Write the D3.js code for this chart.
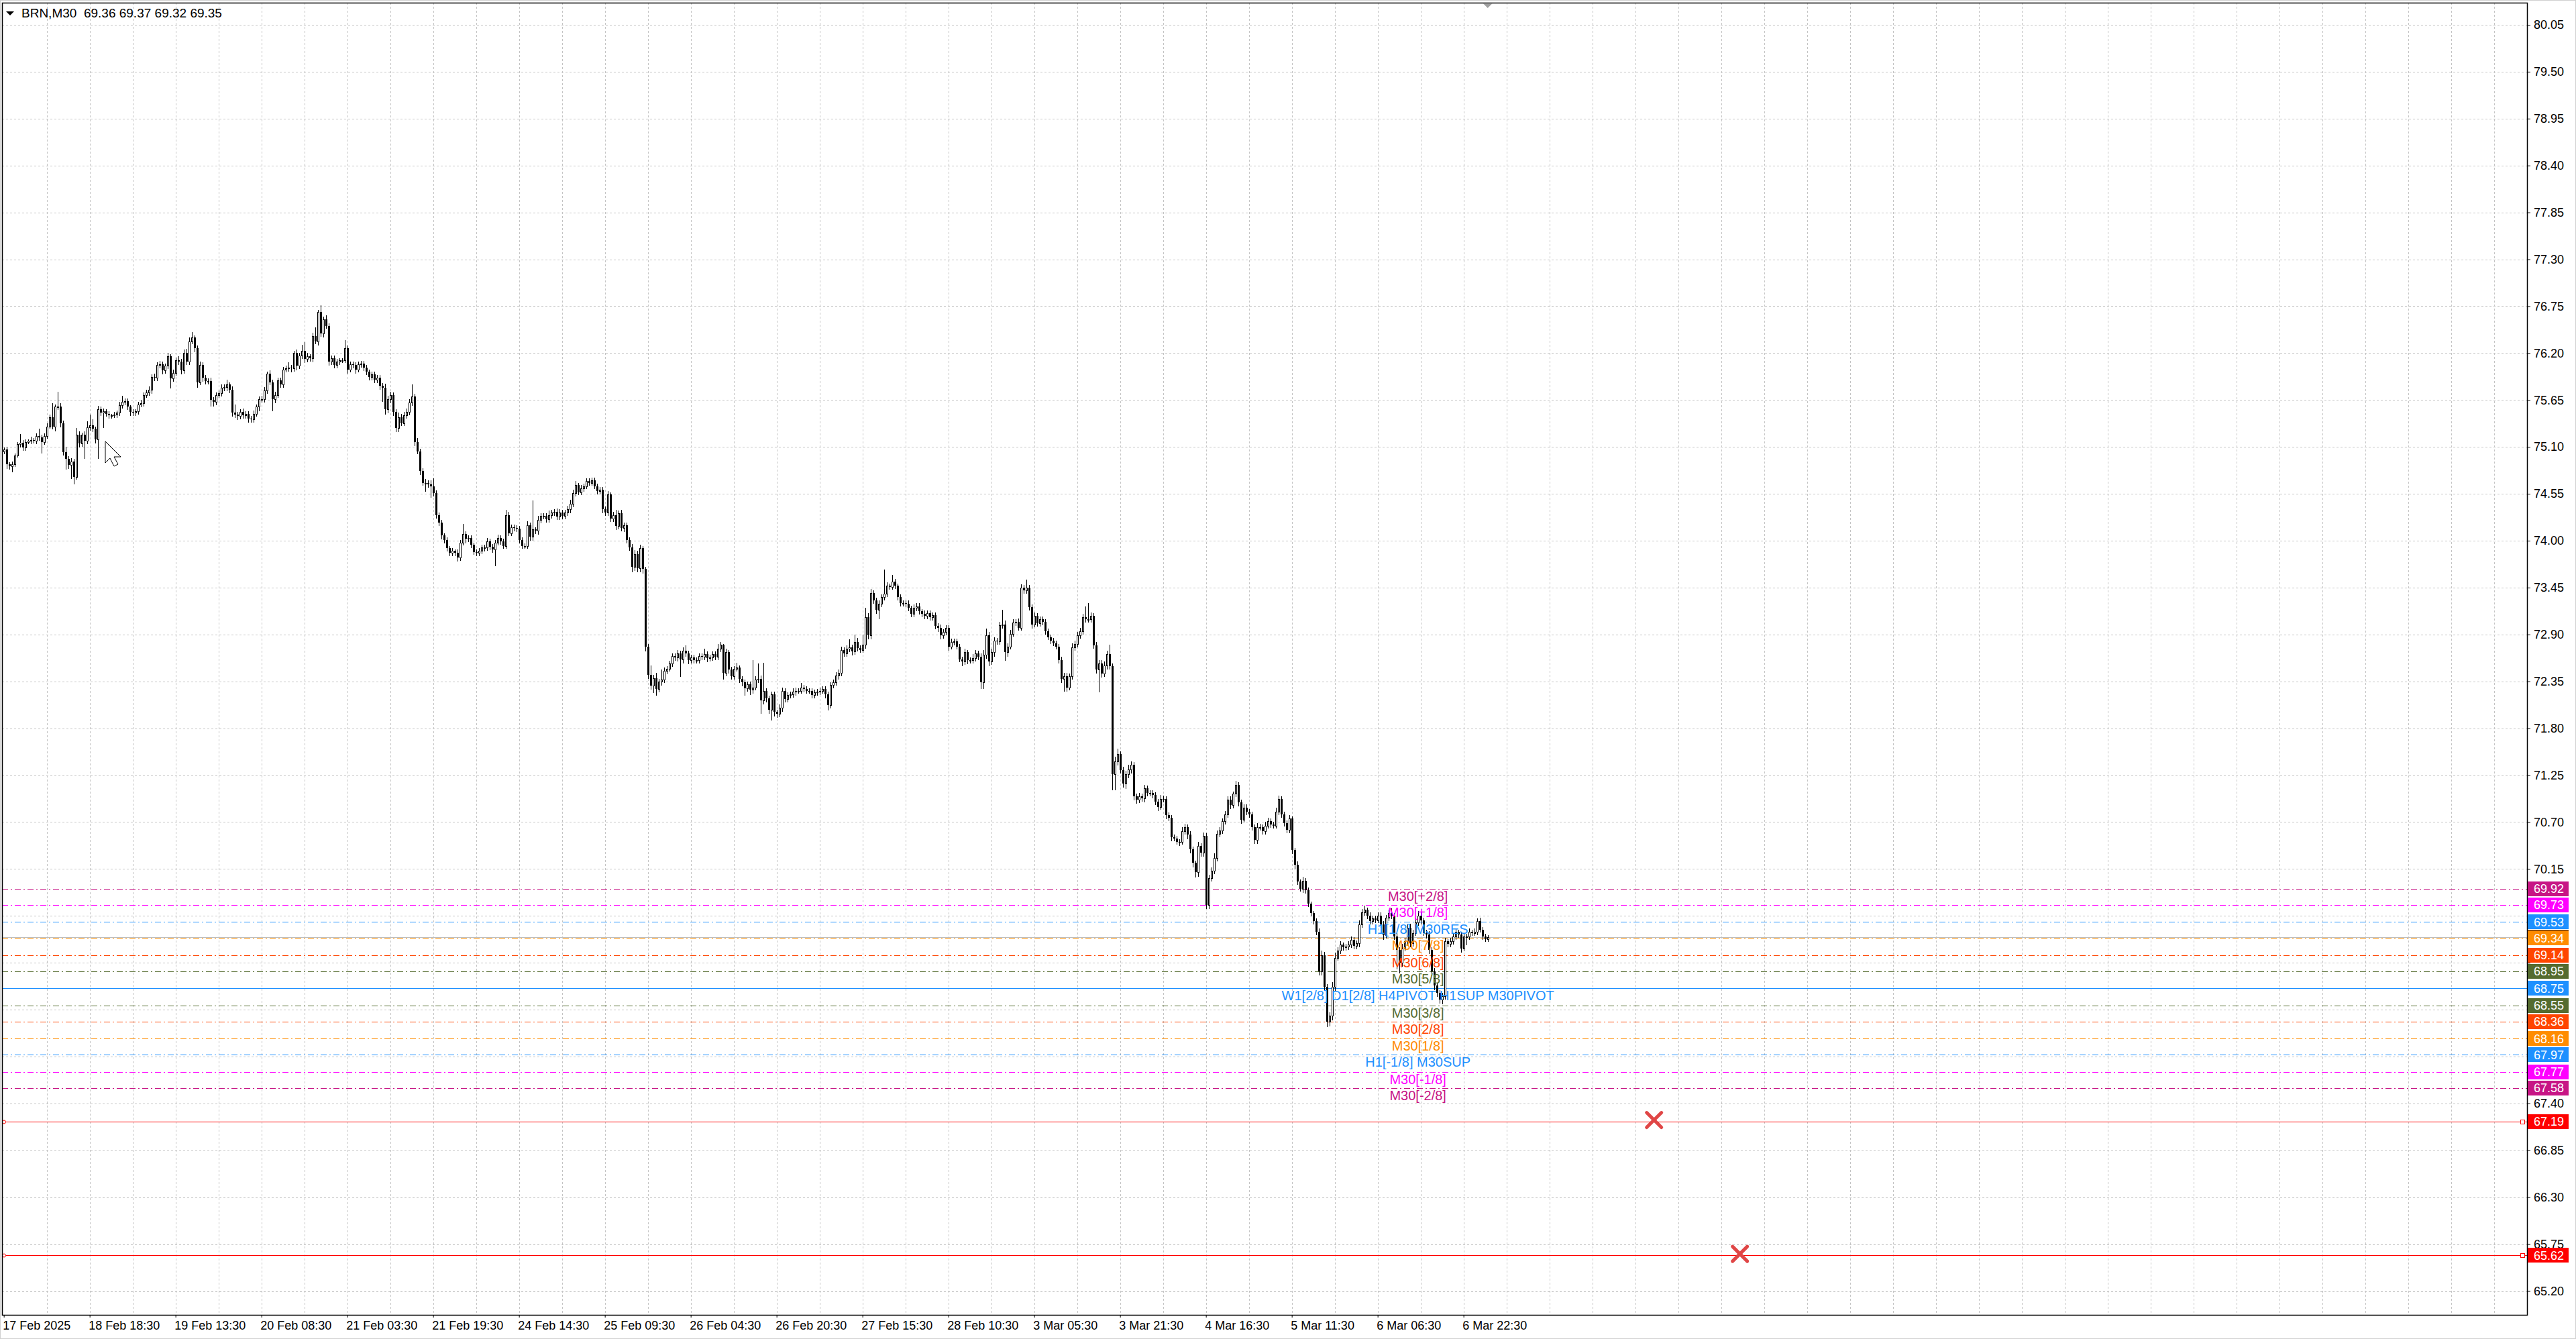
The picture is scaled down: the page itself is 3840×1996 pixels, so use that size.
<html>

<head>
    <meta charset="utf-8">
    <title>BRN,M30</title>
    <style>
        body { margin: 0; background: #fff; }
        svg text { font-family: "Liberation Sans", Arial, sans-serif; }
    </style>
    <script src="https://cdn.jsdelivr.net/npm/d3@7/dist/d3.min.js"></script>
</head>

<body>
    <script>
        // BRN M30 candles, 17 Feb 2025 -> 6 Mar 2025 (open of each bar = previous close)
        var firstOpen = 75.05;
        var closes = [
            75.07, 74.90, 74.87, 74.90, 75.00, 75.13, 75.15, 75.09, 75.16, 75.17, 75.18, 75.17, 75.23, 75.21, 75.16, 75.23, 75.34, 75.45, 75.34, 75.57,
            75.57, 75.38, 75.04, 74.96, 74.89, 74.93, 74.75, 75.24, 75.14, 75.24, 75.17, 75.33, 75.35, 75.31, 75.19, 75.54, 75.50, 75.52, 75.49, 75.47,
            75.47, 75.48, 75.50, 75.59, 75.63, 75.64, 75.57, 75.51, 75.50, 75.52, 75.60, 75.61, 75.71, 75.74, 75.77, 75.92, 75.91, 76.06, 76.07, 76.00,
            76.05, 76.16, 75.90, 75.97, 76.12, 76.10, 76.00, 76.20, 76.10, 76.34, 76.38, 76.26, 75.86, 76.06, 75.91, 75.87, 75.87, 75.65, 75.63, 75.71,
            75.73, 75.79, 75.80, 75.83, 75.77, 75.50, 75.48, 75.46, 75.51, 75.47, 75.49, 75.43, 75.42, 75.49, 75.57, 75.66, 75.66, 75.76, 75.96, 75.86,
            75.66, 75.71, 75.88, 75.83, 76.01, 76.02, 76.03, 76.02, 76.20, 76.05, 76.17, 76.23, 76.13, 76.16, 76.14, 76.40, 76.34, 76.68, 76.43, 76.60,
            76.52, 76.10, 76.14, 76.06, 76.10, 76.12, 76.12, 76.26, 76.01, 76.07, 76.06, 76.01, 76.07, 76.08, 76.03, 75.98, 75.92, 75.95, 75.89, 75.91,
            75.82, 75.79, 75.54, 75.66, 75.71, 75.51, 75.32, 75.45, 75.38, 75.47, 75.51, 75.62, 75.69, 75.16, 75.05, 74.82, 74.68, 74.68, 74.66, 74.64,
            74.56, 74.30, 74.21, 74.06, 74.01, 73.91, 73.86, 73.88, 73.86, 73.80, 73.98, 74.08, 74.02, 74.03, 73.95, 73.87, 73.86, 73.88, 73.92, 73.92,
            73.99, 73.93, 73.90, 73.98, 74.03, 73.99, 73.94, 74.30, 74.09, 74.16, 74.15, 74.14, 74.01, 73.94, 73.94, 74.18, 74.05, 74.13, 74.12, 74.24,
            74.29, 74.29, 74.25, 74.30, 74.33, 74.34, 74.28, 74.33, 74.29, 74.33, 74.37, 74.43, 74.56, 74.65, 74.57, 74.61, 74.64, 74.70, 74.68, 74.71,
            74.64, 74.58, 74.60, 74.37, 74.33, 74.54, 74.26, 74.30, 74.17, 74.32, 74.15, 74.18, 74.01, 73.92, 73.69, 73.84, 73.68, 73.91, 73.67, 72.76,
            72.43, 72.30, 72.39, 72.26, 72.35, 72.37, 72.47, 72.50, 72.56, 72.65, 72.63, 72.68, 72.61, 72.71, 72.68, 72.60, 72.63, 72.60, 72.60, 72.65,
            72.64, 72.67, 72.62, 72.63, 72.67, 72.64, 72.73, 72.78, 72.45, 72.69, 72.49, 72.41, 72.50, 72.51, 72.38, 72.34, 72.27, 72.32, 72.25, 72.28,
            72.37, 72.38, 72.13, 72.24, 72.15, 72.02, 72.20, 71.99, 71.97, 72.04, 72.24, 72.14, 72.19, 72.20, 72.23, 72.24, 72.24, 72.28, 72.26, 72.24,
            72.24, 72.19, 72.22, 72.23, 72.24, 72.26, 72.20, 72.07, 72.31, 72.34, 72.42, 72.45, 72.72, 72.68, 72.73, 72.75, 72.70, 72.81, 72.74, 72.72,
            72.78, 73.10, 72.89, 73.39, 73.30, 73.19, 73.26, 73.34, 73.38, 73.47, 73.46, 73.52, 73.47, 73.34, 73.27, 73.27, 73.26, 73.21, 73.14, 73.21,
            73.23, 73.17, 73.14, 73.12, 73.15, 73.10, 73.13, 73.00, 72.98, 72.89, 72.93, 72.98, 72.76, 72.81, 72.82, 72.76, 72.61, 72.58, 72.69, 72.60,
            72.60, 72.62, 72.68, 72.64, 72.34, 72.66, 72.89, 72.58, 72.69, 72.83, 72.82, 73.01, 73.02, 72.69, 72.76, 72.91, 73.04, 73.05, 72.98, 73.45,
            73.42, 73.45, 73.22, 73.02, 73.12, 73.03, 73.08, 73.05, 72.94, 72.87, 72.83, 72.80, 72.76, 72.60, 72.38, 72.41, 72.28, 72.41, 72.75, 72.79,
            72.89, 72.94, 73.10, 73.08, 73.08, 73.12, 72.77, 72.49, 72.56, 72.44, 72.54, 72.67, 72.53, 71.26, 71.41, 71.50, 71.31, 71.15, 71.26, 71.32,
            71.37, 71.00, 70.96, 71.00, 70.98, 71.10, 71.04, 71.04, 71.02, 70.94, 70.88, 70.97, 70.97, 70.78, 70.75, 70.52, 70.51, 70.47, 70.47, 70.59,
            70.64, 70.55, 70.38, 70.22, 70.11, 70.42, 70.34, 70.54, 69.73, 70.04, 70.13, 70.28, 70.56, 70.60, 70.71, 70.79, 70.96, 70.90, 71.03, 71.14,
            70.93, 70.73, 70.87, 70.82, 70.79, 70.64, 70.49, 70.64, 70.64, 70.59, 70.66, 70.71, 70.67, 70.66, 70.82, 70.97, 70.79, 70.69, 70.61, 70.74,
            70.37, 70.20, 70.00, 69.92, 70.01, 69.90, 69.74, 69.63, 69.54, 69.41, 68.95, 69.14, 68.77, 68.36, 68.43, 68.77, 69.11, 69.19, 69.26, 69.23,
            69.24, 69.26, 69.32, 69.25, 69.28, 69.50, 69.64, 69.67, 69.60, 69.54, 69.57, 69.55, 69.60, 69.50, 69.37, 69.58, 69.63, 69.60, 69.36, 69.20,
            69.05, 69.22, 69.30, 69.46, 69.28, 69.40, 69.52, 69.60, 69.55, 69.40, 69.38, 69.20, 68.95, 68.78, 68.70, 68.62, 68.66, 69.30, 69.27, 69.30,
            69.36, 69.41, 69.38, 69.22, 69.36, 69.36, 69.41, 69.40, 69.41, 69.54, 69.44, 69.36, 69.33, 69.35
        ];
        // wick lengths above / below the body, in cents
        var upWick = [
            2, 3, 2, 3, 2, 3, 10, 3, 3, 2, 4, 2, 3, 8, 3, 3, 4, 3, 16, 3,
            18, 4, 3, 6, 3, 4, 3, 8, 4, 3, 4, 7, 13, 7, 3, 4, 3, 3, 2, 3,
            2, 3, 3, 4, 7, 3, 3, 2, 3, 2, 3, 4, 3, 3, 4, 3, 4, 3, 4, 3,
            3, 4, 3, 4, 3, 4, 3, 4, 5, 4, 7, 3, 3, 4, 3, 3, 3, 4, 3, 3,
            3, 4, 3, 6, 3, 4, 10, 3, 3, 4, 3, 3, 3, 4, 3, 3, 4, 4, 2, 4,
            3, 4, 3, 3, 3, 3, 6, 3, 3, 4, 3, 7, 10, 4, 3, 4, 10, 3, 8, 3,
            4, 3, 3, 3, 3, 2, 2, 9, 3, 3, 3, 3, 3, 3, 3, 3, 3, 3, 3, 3,
            3, 3, 5, 4, 4, 3, 3, 5, 4, 4, 4, 4, 14, 3, 4, 3, 3, 4, 3, 5,
            9, 3, 3, 3, 3, 3, 3, 3, 2, 4, 3, 12, 3, 3, 3, 3, 3, 3, 3, 3,
            4, 3, 3, 3, 4, 3, 3, 6, 4, 3, 3, 3, 3, 3, 3, 5, 3, 34, 3, 5,
            3, 3, 3, 5, 3, 3, 4, 4, 3, 3, 4, 5, 4, 5, 3, 4, 3, 3, 3, 3,
            3, 3, 3, 3, 3, 4, 3, 4, 6, 3, 4, 3, 3, 3, 4, 5, 4, 4, 3, 2,
            3, 11, 4, 6, 3, 12, 4, 3, 3, 3, 3, 4, 3, 4, 6, 3, 3, 3, 3, 3,
            3, 6, 3, 3, 3, 3, 6, 3, 1, 4, 3, 3, 3, 6, 3, 3, 3, 3, 3, 32,
            4, 18, 4, 33, 3, 3, 3, 3, 3, 4, 4, 3, 3, 3, 4, 4, 3, 5, 3, 3,
            3, 3, 3, 3, 4, 3, 3, 3, 3, 3, 4, 4, 4, 3, 4, 9, 3, 9, 5, 3,
            12, 11, 5, 4, 3, 3, 4, 3, 28, 4, 3, 8, 3, 3, 3, 3, 3, 4, 3, 4,
            4, 4, 3, 4, 3, 3, 3, 3, 3, 4, 3, 3, 3, 4, 3, 3, 3, 3, 4, 3,
            3, 5, 4, 3, 4, 6, 8, 4, 4, 4, 3, 4, 17, 4, 4, 4, 4, 3, 4, 4,
            3, 9, 3, 3, 4, 3, 3, 3, 3, 3, 3, 3, 3, 3, 4, 4, 4, 3, 5, 4,
            4, 4, 4, 13, 19, 4, 3, 4, 4, 4, 4, 4, 11, 3, 6, 6, 3, 4, 4, 5,
            4, 3, 3, 4, 3, 4, 3, 3, 3, 3, 3, 5, 4, 3, 3, 3, 3, 3, 3, 5,
            4, 3, 4, 3, 3, 5, 3, 4, 3, 4, 4, 5, 4, 4, 3, 4, 4, 4, 3, 4,
            3, 3, 4, 4, 3, 3, 3, 5, 4, 3, 4, 4, 3, 3, 5, 4, 3, 3, 3, 4,
            3, 3, 4, 3, 5, 3, 3, 3, 3, 3, 4, 5, 4, 3, 4, 5, 6, 4, 4, 3,
            3, 4, 4, 3, 3, 5, 4, 5, 3, 4, 3, 3, 4, 4, 4, 3, 4, 6, 3, 4,
            3, 5, 4, 4, 5, 4, 5, 6, 4, 3, 4, 4, 3, 4, 3, 3, 4, 4, 3, 4,
            3, 4, 3, 3, 4, 3, 4, 3, 4, 3, 4, 3, 3, 2
        ];
        var downWick = [
            3, 5, 3, 6, 3, 2, 3, 3, 3, 2, 3, 2, 3, 3, 13, 3, 3, 2, 3, 5,
            3, 4, 3, 12, 4, 16, 8, 3, 4, 3, 20, 3, 3, 3, 4, 22, 3, 17, 3, 3,
            3, 2, 3, 3, 3, 3, 3, 4, 3, 3, 3, 3, 3, 3, 3, 4, 3, 3, 3, 4,
            3, 3, 11, 3, 3, 3, 4, 3, 3, 3, 3, 4, 6, 3, 4, 3, 3, 7, 5, 3,
            3, 3, 3, 4, 3, 4, 3, 4, 3, 3, 3, 4, 3, 3, 3, 4, 3, 3, 3, 3,
            13, 4, 3, 3, 3, 3, 3, 4, 3, 4, 3, 3, 4, 3, 3, 4, 3, 4, 3, 4,
            3, 4, 3, 3, 3, 3, 3, 3, 4, 3, 3, 4, 3, 3, 3, 3, 3, 3, 3, 3,
            4, 15, 5, 4, 4, 4, 4, 4, 3, 3, 3, 3, 3, 4, 3, 4, 3, 10, 3, 13,
            3, 3, 3, 4, 3, 3, 3, 3, 3, 4, 3, 3, 4, 3, 3, 3, 3, 3, 3, 4,
            3, 3, 3, 19, 3, 3, 3, 3, 3, 3, 3, 3, 3, 3, 3, 3, 4, 4, 3, 4,
            3, 3, 3, 3, 3, 3, 3, 3, 3, 3, 3, 4, 3, 3, 3, 3, 3, 3, 3, 3,
            3, 3, 3, 4, 3, 3, 3, 3, 4, 3, 3, 4, 3, 3, 5, 4, 4, 4, 5, 5,
            4, 4, 8, 7, 3, 4, 3, 3, 3, 3, 3, 4, 20, 4, 3, 4, 3, 3, 3, 3,
            3, 3, 4, 3, 3, 3, 3, 3, 7, 3, 4, 3, 3, 3, 4, 4, 8, 3, 5, 4,
            3, 3, 15, 4, 4, 4, 12, 4, 4, 3, 4, 3, 3, 3, 3, 4, 3, 3, 3, 3,
            3, 3, 3, 3, 3, 3, 4, 5, 3, 3, 3, 4, 3, 3, 3, 3, 4, 3, 3, 3,
            3, 4, 4, 4, 3, 4, 10, 3, 3, 3, 3, 3, 3, 3, 3, 3, 3, 3, 3, 3,
            3, 3, 3, 3, 3, 3, 3, 3, 4, 4, 3, 3, 4, 3, 3, 3, 3, 4, 3, 4,
            3, 3, 3, 3, 7, 7, 4, 4, 3, 4, 3, 3, 3, 9, 4, 3, 3, 3, 3, 3,
            3, 3, 3, 4, 3, 3, 3, 3, 3, 3, 3, 3, 3, 3, 4, 14, 4, 3, 3, 3,
            3, 3, 3, 3, 3, 3, 3, 4, 26, 4, 3, 4, 3, 18, 18, 4, 3, 4, 5, 4,
            4, 4, 4, 3, 3, 4, 3, 3, 3, 3, 4, 3, 3, 4, 3, 4, 3, 3, 4, 3,
            3, 4, 4, 4, 5, 4, 4, 4, 4, 4, 3, 3, 3, 3, 3, 3, 3, 4, 3, 3,
            4, 4, 3, 3, 3, 3, 4, 4, 3, 3, 3, 3, 3, 3, 3, 3, 3, 3, 3, 3,
            4, 4, 3, 3, 4, 3, 3, 3, 3, 3, 4, 4, 4, 6, 5, 5, 4, 3, 3, 3,
            3, 3, 3, 3, 3, 4, 3, 3, 3, 3, 3, 3, 3, 3, 4, 3, 3, 3, 3, 22,
            12, 4, 3, 3, 4, 3, 3, 3, 4, 3, 4, 4, 5, 4, 4, 4, 5, 3, 3, 3,
            3, 3, 3, 4, 3, 10, 3, 3, 3, 3, 3, 3, 3, 3
        ];

        var timeLabels = ["17 Feb 2025", "18 Feb 18:30", "19 Feb 13:30", "20 Feb 08:30", "21 Feb 03:30", "21 Feb 19:30",
            "24 Feb 14:30", "25 Feb 09:30", "26 Feb 04:30", "26 Feb 20:30", "27 Feb 15:30", "28 Feb 10:30",
            "3 Mar 05:30", "3 Mar 21:30", "4 Mar 16:30", "5 Mar 11:30", "6 Mar 06:30", "6 Mar 22:30"];
        var timeLabelBars = [0, 32, 64, 96, 128, 160, 192, 224, 256, 288, 320, 352, 384, 416, 448, 480, 512, 544];

        var priceTicks = [80.05, 79.50, 78.95, 78.40, 77.85, 77.30, 76.75, 76.20, 75.65, 75.10, 74.55, 74.00, 73.45, 72.90,
            72.35, 71.80, 71.25, 70.70, 70.15, 69.60, 69.05, 68.50, 67.95, 67.40, 66.85, 66.30, 65.75, 65.20];

        // Murrey-math style levels drawn by the indicator
        var levelValues = [69.92, 69.73, 69.53, 69.34, 69.14, 68.95, 68.75, 68.55, 68.36, 68.16, 67.97, 67.77, 67.58];
        var levelNames = ["M30[+2/8]", "M30[+1/8]", "H1[1/8] M30RES", "M30[7/8]", "M30[6/8]", "M30[5/8]",
            "W1[2/8] D1[2/8] H4PIVOT H1SUP M30PIVOT", "M30[3/8]", "M30[2/8]", "M30[1/8]", "H1[-1/8] M30SUP",
            "M30[-1/8]", "M30[-2/8]"];
        var stopValues = [67.19, 65.62];
        var stopMarkBars = [615, 647];
        var symbol = "BRN,M30";
        var lastOHLC = [69.36, 69.37, 69.32, 69.35];

        // styles
        var levelColors = ["#C71585", "#FF00FF", "#1E90FF", "#FF8C00", "#FF4500", "#556B2F", "#1E90FF",
            "#556B2F", "#FF4500", "#FF8C00", "#1E90FF", "#FF00FF", "#C71585"];
        var width = 3840, height = 1996;
        var plotLeft = 3, plotTop = 4, plotRight = 3767, plotBottom = 1960;
        var fmt = d3.format(".2f");

        var x = d3.scaleLinear().domain([0, 1]).range([5.67, 9.67]);   // 4px per bar
        var y = d3.scaleLinear().domain([65.20, 80.05]).range([1924.5, 37]);
        function px(v) { return Math.round(v) + 0.5; }

        var svg = d3.select("body")
            .append("svg")
            .attr("width", width)
            .attr("height", height)
            .style("display", "block");

        svg.append("rect")
            .attr("x", 0.5).attr("y", 0.5)
            .attr("width", width - 1).attr("height", height - 1)
            .attr("fill", "#fff").attr("stroke", "#d0d0d0");

        // grid
        var grid = svg.append("g").attr("stroke", "#c4c4c4").attr("stroke-dasharray", "3,3").attr("shape-rendering", "crispEdges");
        grid.selectAll("line.v")
            .data(d3.range(16, 929, 16))
            .enter().append("line")
            .attr("x1", d => px(x(d))).attr("x2", d => px(x(d)))
            .attr("y1", plotTop).attr("y2", plotBottom);
        grid.selectAll("line.h")
            .data(priceTicks)
            .enter().append("line")
            .attr("x1", plotLeft).attr("x2", plotRight)
            .attr("y1", d => px(y(d))).attr("y2", d => px(y(d)));

        // level lines
        var lv = svg.append("g").attr("shape-rendering", "crispEdges");
        lv.selectAll("line")
            .data(levelValues)
            .enter().append("line")
            .attr("x1", plotLeft).attr("x2", plotRight)
            .attr("y1", d => px(y(d))).attr("y2", d => px(y(d)))
            .attr("stroke", (d, i) => levelColors[i])
            .attr("stroke-width", (d, i) => i == 6 ? 1.5 : 1)
            .attr("stroke-dasharray", (d, i) => i == 6 ? null : "9,4,2,4");

        // current price line
        svg.append("line")
            .attr("x1", plotLeft).attr("x2", plotRight)
            .attr("y1", px(y(lastOHLC[3]))).attr("y2", px(y(lastOHLC[3])))
            .attr("stroke", "#bdbdbd").attr("shape-rendering", "crispEdges");

        // stop lines
        var st = svg.append("g");
        st.selectAll("line")
            .data(stopValues)
            .enter().append("line")
            .attr("x1", plotLeft).attr("x2", plotRight)
            .attr("y1", d => px(y(d))).attr("y2", d => px(y(d)))
            .attr("stroke", "#ff0000").attr("shape-rendering", "crispEdges");
        st.selectAll("rect")
            .data(stopValues)
            .enter().append("rect")
            .attr("x", plotRight - 9.5).attr("y", d => px(y(d)) - 3)
            .attr("width", 6).attr("height", 6)
            .attr("fill", "#fff").attr("stroke", "#ff0000");
        st.selectAll("circle")
            .data(stopValues)
            .enter().append("circle")
            .attr("cx", plotLeft + 3).attr("cy", d => px(y(d)))
            .attr("r", 2.5).attr("fill", "#fff").attr("stroke", "#ff0000");

        // candles
        var bars = closes.map(function (c, i) {
            var o = i ? closes[i - 1] : firstOpen;
            return {
                i: i, o: o, c: c,
                h: Math.max(o, c) + upWick[i] / 100,
                l: Math.min(o, c) - downWick[i] / 100
            };
        });
        var cg = svg.append("g").attr("shape-rendering", "crispEdges");
        var candle = cg.selectAll("g")
            .data(bars)
            .enter().append("g");
        candle.append("line")
            .attr("x1", d => px(x(d.i))).attr("x2", d => px(x(d.i)))
            .attr("y1", d => Math.round(y(d.h))).attr("y2", d => Math.round(y(d.l)) + 1)
            .attr("stroke", "#000");
        candle.append("rect")
            .attr("x", d => Math.round(x(d.i)) - 1 + (d.c >= d.o ? 0.5 : 0))
            .attr("y", d => Math.round(y(Math.max(d.o, d.c))) + (d.c >= d.o ? 0.5 : 0))
            .attr("width", d => d.c >= d.o ? 2 : 3)
            .attr("height", d => Math.max(1, Math.round(y(Math.min(d.o, d.c))) - Math.round(y(Math.max(d.o, d.c)))))
            .attr("fill", d => d.c >= d.o ? "#fff" : "#000")
            .attr("stroke", d => d.c >= d.o ? "#000" : "none");

        // level captions
        var labelBar = 527;
        svg.append("g").selectAll("text")
            .data(levelValues)
            .enter().append("text")
            .attr("x", x(labelBar))
            .attr("y", d => y(d) + 18)
            .attr("text-anchor", "middle")
            .attr("font-size", 20)
            .attr("fill", (d, i) => levelColors[i])
            .text((d, i) => levelNames[i]);

        // red X marks on the stop lines
        var xm = svg.append("g").attr("stroke", "#e04646").attr("stroke-width", 5).attr("stroke-linecap", "round");
        stopValues.forEach(function (v, i) {
            var cx = x(stopMarkBars[i]), cy = y(v) - 2;
            xm.append("line").attr("x1", cx - 11).attr("y1", cy - 11).attr("x2", cx + 11).attr("y2", cy + 11);
            xm.append("line").attr("x1", cx - 11).attr("y1", cy + 11).attr("x2", cx + 11).attr("y2", cy - 11);
        });

        // frame
        svg.append("rect")
            .attr("x", plotLeft + 0.5).attr("y", plotTop + 0.5)
            .attr("width", plotRight - plotLeft).attr("height", plotBottom - plotTop)
            .attr("fill", "none").attr("stroke", "#000").attr("stroke-width", 1.5);

        // price tags sit on top of the axis labels they cover
        var tagValues = levelValues.concat(stopValues);
        var tagW = 61, tagH = 22;

        // price axis
        var yAxis = d3.axisRight(y)
            .tickValues(priceTicks)
            .tickFormat(fmt)
            .tickSize(5)
            .tickSizeOuter(0)
            .tickPadding(5);
        var ya = svg.append("g")
            .attr("transform", "translate(" + plotRight + ",0)")
            .call(yAxis);
        ya.select(".domain").remove();
        ya.selectAll("text").attr("font-size", 18).attr("fill", "#000").attr("font-family", "Liberation Sans, Arial, sans-serif");
        ya.selectAll("line").attr("stroke", "#000");
        ya.selectAll(".tick").filter(function (d) {
            return tagValues.some(function (v) { return Math.abs(y(v) - y(d)) < 14; });
        }).select("text").remove();

        // time axis
        var xAxis = d3.axisBottom(x)
            .tickValues(timeLabelBars)
            .tickFormat((d, i) => timeLabels[i])
            .tickSize(4)
            .tickSizeOuter(0)
            .tickPadding(5);
        var xa = svg.append("g")
            .attr("transform", "translate(0," + plotBottom + ")")
            .call(xAxis);
        xa.select(".domain").remove();
        xa.selectAll("text").attr("font-size", 18).attr("fill", "#000").attr("text-anchor", "start")
            .attr("dx", -2).attr("font-family", "Liberation Sans, Arial, sans-serif");
        xa.selectAll("line").attr("stroke", "#000");

        function tag(v, color, withText) {
            var g = svg.append("g");
            g.append("rect")
                .attr("x", plotRight + 1).attr("y", Math.round(y(v)) - tagH / 2)
                .attr("width", tagW).attr("height", tagH)
                .attr("fill", color);
            if (withText) {
                g.append("text")
                    .attr("x", plotRight + 10).attr("y", y(v))
                    .attr("dy", "0.36em")
                    .attr("font-size", 18).attr("fill", "#fff")
                    .text(fmt(v));
            }
        }
        // last price tag is hidden behind the 69.34 level tag
        tag(lastOHLC[3], "#000", false);
        levelValues.forEach(function (v, i) { tag(v, levelColors[i], true); });
        stopValues.forEach(function (v) { tag(v, "#ff0000", true); });

        // header
        svg.append("path")
            .attr("d", "M9,17 L21,17 L15,23 Z")
            .attr("fill", "#000");
        svg.append("text")
            .attr("x", 32).attr("y", 26)
            .attr("font-size", 19)
            .style("white-space", "pre")
            .text(symbol + "  " + lastOHLC.map(fmt).join(" "));

        // chart shift marker
        svg.append("path")
            .attr("d", "M" + (x(553) - 7) + ",5 L" + (x(553) + 7) + ",5 L" + x(553) + ",12 Z")
            .attr("fill", "#a0a0a0");

        // mouse pointer left on the chart
        svg.append("path")
            .attr("d", "M157,658 L157,690 L164,683 L170,695 L176,692 L170,681 L180,681 Z")
            .attr("fill", "#fff").attr("stroke", "#000").attr("stroke-width", 1);
    </script>
</body>

</html>
